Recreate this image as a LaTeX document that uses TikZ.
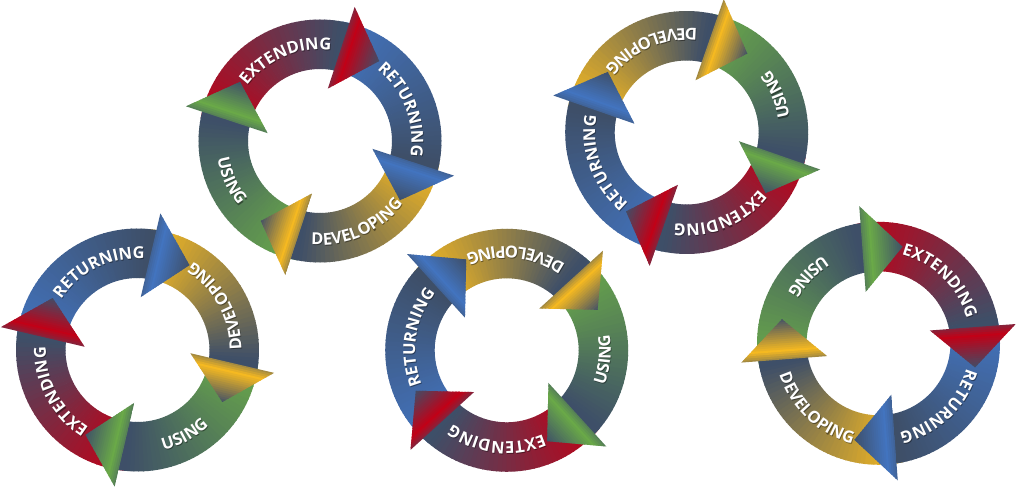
\documentclass[tikz,border=0pt]{standalone}
\usepackage{fontspec}
\setmainfont{Open Sans}
\usetikzlibrary{decorations.text}
\definecolor{slate}{RGB}{62,79,104}
\definecolor{cR}{RGB}{194,0,22}
\definecolor{cB}{RGB}{66,116,192}
\definecolor{cY}{RGB}{247,186,32}
\definecolor{cG}{RGB}{106,170,72}
\newcommand\tcol{white}
\newcommand\ringfont{\fontsize{16.5}{18}\selectfont\bfseries\color{\tcol}}

% ring segment: start angle (bright end), colour; spans 90 deg clockwise
\newcommand\segm[2]{%
  \foreach \k in {0,...,39}{%
    \pgfmathsetmacro\sA{#1-\k*2.25}%
    \pgfmathsetmacro\sB{#1-(\k+1)*2.25-0.4}%
    \pgfmathtruncatemacro\pcv{100-(\k+0.5)*2.5}%
    \colorlet{segc}{#2!\pcv!slate}%
    \fill[segc] (\sA:72) arc[start angle=\sA, end angle=\sB, radius=72]
      -- (\sB:121.5) arc[start angle=\sB, end angle=\sA, radius=121.5] -- cycle;
  }}

% dark end of a segment, running under its arrow head
\newcommand\segend[1]{%
  \fill[slate] (#1+0.5:72) arc[start angle=#1+0.5, end angle=#1-4.5, radius=72]
    -- (#1-4.5:121.5) arc[start angle=#1-4.5, end angle=#1+0.5, radius=121.5] -- cycle;}

% arrow head at base angle, colour
\newcommand\arrowhd[2]{%
  \begin{scope}
    \clip (#1+2.5:53) -- (#1-3.5:138.5) -- (#1-25.5:99.5) -- cycle;
    \begin{scope}[shift={(#1+2.5:53)}, rotate=#1-97.2]
      \foreach \k in {0,...,19}{%
        \pgfmathsetmacro\xA{\k*2.1-0.6}%
        \pgfmathsetmacro\xB{(\k+1)*2.1+0.3}%
        \pgfmathsetmacro\tpos{(\k+0.5)/20}%
        \pgfmathtruncatemacro\pcv{ifthenelse(\tpos<0.22, 50+50*\tpos/0.22, 100*(1-\tpos)/0.78)}%
        \colorlet{arrc}{#2!\pcv!slate}%
        \fill[arrc] (\xA,-15) rectangle (\xB,105);
      }
    \end{scope}
  \end{scope}}

\newcommand\cwtext[2]{%
  \path[decorate, decoration={text along path, text align=center, text={|\ringfont|#2}}]
    (#1+70:91.5) arc[start angle=#1+70, end angle=#1-70, radius=91.5];}
\newcommand\ccwtext[2]{%
  \path[decorate, decoration={text along path, text align=center, text={|\ringfont|#2}}]
    (#1-70:104) arc[start angle=#1-70, end angle=#1+70, radius=104];}
\newcommand\alltexts{%
  \cwtext{114}{EXTENDING}\cwtext{22}{RETURNING}%
  \ccwtext{-65}{DEVELOPING}\ccwtext{205}{USING}}

\newcommand\ringdraw[3]{%
  \pgfmathsetmacro\shang{-55-(#3)}%
  \begin{scope}[shift={(#1,#2)}, rotate=#3]
    \segm{170}{cR}\segm{80}{cB}\segm{-10}{cY}\segm{-100}{cG}
    \segend{80}\segend{-10}\segend{-100}\segend{170}
    \arrowhd{80}{cR}\arrowhd{-10}{cB}\arrowhd{-100}{cY}\arrowhd{170}{cG}
    \begin{scope}[shift={(\shang:1.3)}, opacity=0.4]
      \renewcommand\tcol{black}
      \alltexts
    \end{scope}
    \alltexts
  \end{scope}}

\begin{document}
\begin{tikzpicture}[x=1pt,y=1pt]
\useasboundingbox (0,0) rectangle (1016,489);
\fill[white] (0,0) rectangle (1016,489);
\clip (0,0) rectangle (1016,489);
\ringdraw{320}{348}{-1}
\ringdraw{137.5}{139}{94}
\ringdraw{506.7}{138.7}{149.5}
\ringdraw{686.7}{356.5}{178}
\ringdraw{878.5}{145.7}{-68.5}
\end{tikzpicture}
\end{document}
